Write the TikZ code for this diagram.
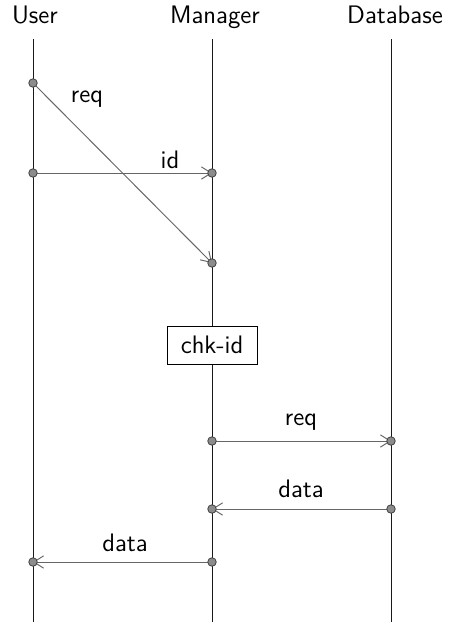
\documentclass[tikz,border=0pt]{standalone}
\usepackage{tikz}
\usetikzlibrary{arrows.meta}
\renewcommand{\familydefault}{\sfdefault}

\begin{document}
\begin{tikzpicture}[font=\Large,
  head/.style={text height=0.75em,text depth=0.25em},
  life/.style={draw=black!90,line width=0.45pt,shorten <=3pt},
  msg/.style={draw=black!60,line width=0.55pt,-{Straight Barb[length=5.5pt,width=7pt]}},
  dot/.style={draw=black!75,fill=black!45,line width=0.45pt}]
\useasboundingbox (0,0) rectangle (9,-12.44);
% lifeline heads
\node[head] (user) at (0.7,-0.38) {User};
\node[head] (manager) at (4.3,-0.38) {Manager};
\node[head] (database) at (7.9,-0.38) {Database};
\coordinate (userend) at (0.66,-12.44);
\coordinate (managerend) at (4.24,-12.44);
\coordinate (databaseend) at (7.82,-12.44);
\draw[life] (user.south -| userend) -- (userend);
\draw[life] (manager.south -| managerend) -- (managerend);
\draw[life] (database.south -| databaseend) -- (databaseend);
% message end points
\coordinate (u1) at (0.66,-1.66);
\coordinate (u2) at (0.66,-3.46);
\coordinate (u3) at (0.66,-11.24);
\coordinate (m1) at (4.24,-5.26);
\coordinate (m2) at (4.24,-3.46);
\coordinate (m3) at (4.24,-8.82);
\coordinate (m4) at (4.24,-10.18);
\coordinate (m5) at (4.24,-11.24);
\coordinate (d1) at (7.82,-8.82);
\coordinate (d2) at (7.82,-10.18);
% local action
\node[draw,fill=white,minimum width=1.8cm,minimum height=0.76cm] (chkid) at (4.24,-6.9) {chk-id};
% messages
\draw[msg] (u1) -- (m1);
\node (req1) at (1.74,-1.98) {req};
\draw[msg] (u2) -- (m2);
\node (id) at (3.4,-3.2) {id};
\draw[msg] (m3) -- (d1);
\node (req2) at (6.02,-8.44) {req};
\draw[msg] (d2) -- (m4);
\node (data1) at (6.02,-9.78) {data};
\draw[msg] (m5) -- (u3);
\node (data2) at (2.5,-10.86) {data};
\foreach \p in {u1,u2,u3,m1,m2,m3,m4,m5,d1,d2}
\draw[dot] (\p) circle (0.085);
\end{tikzpicture}
\end{document}
